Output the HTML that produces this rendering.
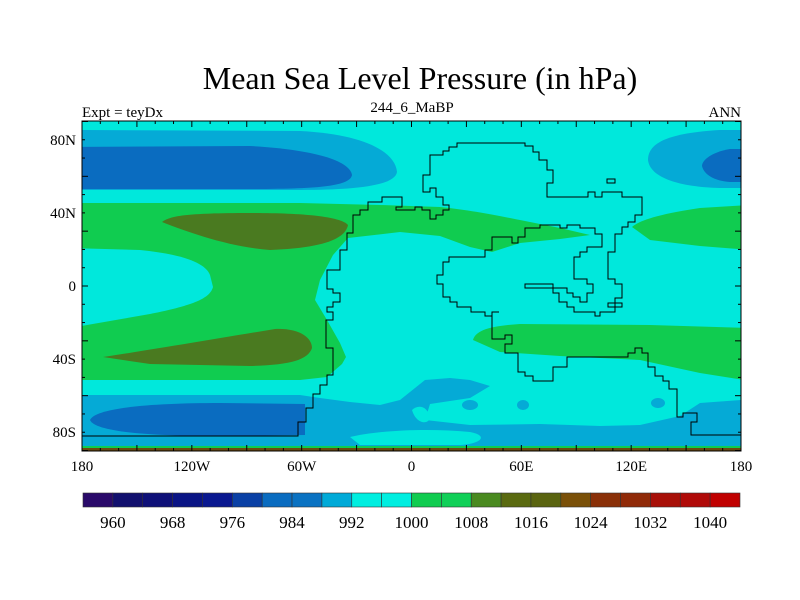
<!DOCTYPE html>
<html><head><meta charset="utf-8"><style>
html,body{margin:0;padding:0;background:#fff;}
svg{display:block;font-family:"Liberation Serif",serif;}
</style></head><body>
<svg id="chart" width="800" height="600" viewBox="0 0 800 600">
<text x="420" y="89" font-size="32" text-anchor="middle">Mean Sea Level Pressure (in hPa)</text>
<text x="82" y="117" font-size="15">Expt = teyDx</text>
<text x="412" y="112" font-size="15" text-anchor="middle">244_6_MaBP</text>
<text x="741" y="117" font-size="15" text-anchor="end">ANN</text>
<defs><clipPath id="pc"><rect x="82" y="121" width="659" height="330"/></clipPath></defs>
<g clip-path="url(#pc)">
<rect x="82" y="121" width="659" height="330" fill="#00e8dc"/>
<path fill="#05aad6" d="M70,130 L300,131 C360,134 395,150 397,172 C395,185 360,190 300,190 L70,190 Z"/>
<path fill="#0a6cc0" d="M70,147 L250,146 C320,150 350,162 352,175 C350,186 320,189 250,189 L70,189 Z"/>
<path fill="#05aad6" d="M750,130 L720,130 C670,133 648,142 648,160 C650,178 680,187 720,188 L750,188 Z"/>
<path fill="#0a6cc0" d="M750,149 L730,149 C712,152 702,160 702,166 C704,175 715,181 730,182 L750,182 Z"/>
<path fill="#10cc50" d="M70,203 L300,203 L380,205 L440,207 C470,210 500,216 520,220 L560,228 L590,235 L560,239 L520,243 L492,252 L470,247 L440,236 L400,232 L348,238 L333,255 L320,280 L315,300 L327,320 L340,343 L346,357 L342,364 L327,377 L300,380 L70,380 Z"/>
<path fill="#00e8dc" d="M70,248 L140,250 C180,254 205,262 210,275 L213,287 C210,298 195,305 150,314 L70,328 Z"/>
<path fill="#4a7a20" d="M162,222 C170,216 185,213 250,213 C300,213 340,216 348,225 C345,240 320,248 270,250 C230,247 190,233 162,222 Z"/>
<path fill="#4a7a20" d="M103,357 C150,350 220,338 275,329 C300,328 312,338 312,348 C308,360 290,365 250,366 L150,364 Z"/>
<path fill="#10cc50" d="M473,340 C476,330 490,326 520,324 L650,325 L750,328 L750,381 L700,373 L640,360 L560,356 L500,352 Z"/>
<path fill="#10cc50" d="M632,227 C640,220 660,214 700,208 L750,205 L750,250 L700,246 L650,240 Z"/>
<path fill="#05aad6" d="M70,395 L300,395 L320,398 L350,402 L380,405 L400,400 L410,392 L425,380 L450,378 L470,380 L490,386 L470,398 L430,404 L425,420 L470,425 L540,424 L600,426 L640,425 L680,416 L700,403 L741,400 L750,400 L750,460 L70,460 Z"/>
<path fill="#00e8dc" d="M350,437 C380,430 430,428 470,432 C490,436 480,444 460,445 L360,445 Z"/>
<path fill="#00e8dc" d="M412,410 C418,404 428,406 430,418 C428,425 416,424 412,410 Z"/>
<ellipse cx="470" cy="405" rx="8" ry="5" fill="#05aad6"/>
<ellipse cx="523" cy="405" rx="6" ry="5" fill="#05aad6"/>
<ellipse cx="658" cy="403" rx="7" ry="5" fill="#05aad6"/>
<path fill="#0a6cc0" d="M90,420 C95,408 150,403 220,403 L305,404 L305,435 L220,436 C150,436 95,432 90,420 Z"/>
<rect x="82" y="446" width="659" height="2" fill="#10cc50"/>
<rect x="82" y="448" width="659" height="3" fill="#6b4a10"/>
<g fill="none" stroke="#000" stroke-width="1">
<polyline points="82,436 298,436 298,422 306,422 306,408 313,408 313,394 320,394 320,385 327,385 327,375 333,375 333,348 326,348 326,320 333,320 333,312 327,312 327,307 333,307 333,302 340,302 340,293 333,293 333,289 327,289 327,270 340,270 340,250 347,250 347,233 353,233 353,215 360,215 360,210 368,210 368,202 382,202 382,197 402,197 402,207 396,207 396,210 415,210 415,207 422,207 422,210 430,210 430,219 436,219 436,215 443,215 443,210 449,210 449,205 443,205 443,197 436,197 436,188 430,188 430,192 423,192 423,175 430,175 430,155 443,155 443,151 449,151 449,147 457,147 457,143 525,143 525,146 533,146 533,152 539,152 539,160 547,160 547,170 553,170 553,183 547,183 547,197 588,197 588,192 595,192 595,197 602,197 602,192 622,192 622,197 642,197 642,215 635,215 635,222 628,222 628,227 622,227 622,234 615,234 615,252 608,252 608,279 615,279 615,284 622,284 622,298 615,298 615,312 600,312 600,316 595,316 595,312 574,312 574,307 567,307 567,302 559,302 559,293 553,293 553,288 525,288 525,284 553,284 553,288"/>
<polyline points="553,288 567,288 567,293 573,293 573,297 580,297 580,302 587,302 587,293 593,293 593,284 587,284 587,279 574,279 574,257 580,257 580,252 587,252 587,247 602,247 602,234 595,234 595,228 580,228 580,225 567,225 567,228 560,228 560,225 540,225 540,228 525,228 525,237 518,237 518,243 512,243 512,237 492,237 492,250 485,250 485,257 449,257 449,262 443,262 443,275 437,275 437,284 443,284 443,297 450,297 450,302 457,302 457,307 471,307 471,312 485,312 485,316 492,316 492,312 499,312 492,312 492,339 505,339 505,335 512,335 512,344 505,344 505,353 518,353 518,372 525,372 525,376 533,376 533,381 553,381 553,367 567,367 567,357 628,357 628,353 635,353 635,348 642,348 642,353 648,353 648,367 655,367 655,376 663,376 663,381 669,381 669,389 677,389 677,417 683,417 683,413 697,413 697,422 691,422 691,435 741,435"/>
<rect x="607" y="179" width="8" height="4"/>
<rect x="608" y="303" width="14" height="4"/>
</g>
</g>
<rect x="82" y="121" width="659" height="330" fill="none" stroke="#000" stroke-width="1"/>
<g id="ticks" stroke="#000" stroke-width="1"></g>
<g id="labels" font-size="15"></g>
<g id="cbar"></g>
<script>
var lonLabels = ["180","120W","60W","0","60E","120E","180"];
var lonValues = [-180,-120,-60,0,60,120,180];
var latLabels = ["80N","40N","0","40S","80S"];
var latValues = [80,40,0,-40,-80];
var levels = [960,964,968,972,976,980,984,988,992,996,1000,1004,1008,1012,1016,1020,1024,1028,1032,1036,1040];
var levelColors = ["#2a0a6a","#12106e","#0e1078","#0a1485","#0a1890","#0a40a5","#0a6cc0","#0a72c2","#00aad8","#00eee0","#00eee0","#10cc50","#10d058","#4a8a20","#5a6a10","#5a6410","#7a5008","#8a3008","#902a08","#a81008","#b00a08","#c00000"];
var NS="http://www.w3.org/2000/svg";
function xLon(l){return 82+(l+180)*659/360;}
function yLat(l){return 286+(-l)*1.828;}
var tg=document.getElementById('ticks'), lg=document.getElementById('labels'), cb=document.getElementById('cbar');
for(var l=-180;l<=180;l+=10){
  var len=(l%30===0)?6:3;
  [[121,121+len],[451,451-len]].forEach(function(p){
    var t=document.createElementNS(NS,'line');
    t.setAttribute('x1',xLon(l));t.setAttribute('x2',xLon(l));t.setAttribute('y1',p[0]);t.setAttribute('y2',p[1]);
    
    
    tg.appendChild(t);
  });
}
for(var a=-90;a<=90;a+=10){
  var len2=(a%30===0)?6:3;
  [[82,82+len2],[741,741-len2]].forEach(function(p){
    var t=document.createElementNS(NS,'line');
    t.setAttribute('y1',yLat(a));t.setAttribute('y2',yLat(a));t.setAttribute('x1',p[0]);t.setAttribute('x2',p[1]);
    
    
    tg.appendChild(t);
  });
}
lonLabels.forEach(function(s,i){
  var t=document.createElementNS(NS,'text');
  t.setAttribute('x',xLon(lonValues[i]));t.setAttribute('y',471);t.setAttribute('text-anchor','middle');
  t.textContent=s;
  
  
  lg.appendChild(t);
});
latLabels.forEach(function(s,i){
  var t=document.createElementNS(NS,'text');
  t.setAttribute('x',76);t.setAttribute('y',yLat(latValues[i])+5);t.setAttribute('text-anchor','end');
  t.textContent=s;
  
  
  lg.appendChild(t);
});
var bx=83, bw=(740-83)/levelColors.length;
levelColors.forEach(function(c,i){
  var r=document.createElementNS(NS,'rect');
  r.setAttribute('x',bx+i*bw);r.setAttribute('y',493);r.setAttribute('width',bw);r.setAttribute('height',14);
  r.setAttribute('fill',c);r.setAttribute('stroke','#333');r.setAttribute('stroke-width','0.6');
  
  
  cb.appendChild(r);
});
levels.forEach(function(v,i){
  if(i%2!==0)return;
  var t=document.createElementNS(NS,'text');
  t.setAttribute('x',bx+(i+1)*bw);t.setAttribute('y',528);t.setAttribute('text-anchor','middle');t.setAttribute('font-size','17');
  t.textContent=v;
  
  
  cb.appendChild(t);
});
</script>
</svg>
</body></html>
